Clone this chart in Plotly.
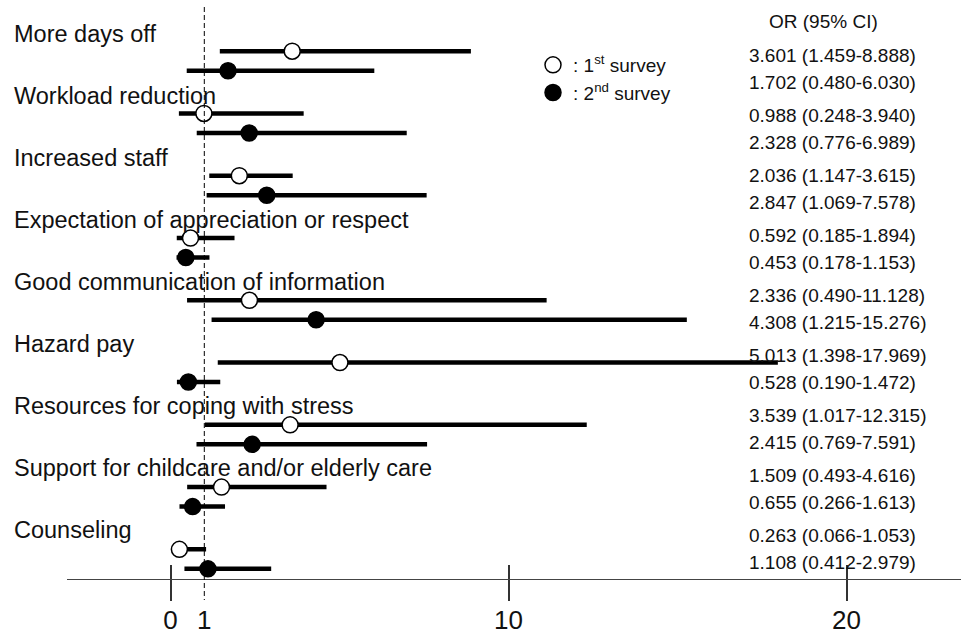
import plotly.graph_objects as go

# ---- data -------------------------------------------------------------
categories = [
    "More days off",
    "Workload reduction",
    "Increased staff",
    "Expectation of appreciation or respect",
    "Good communication of information",
    "Hazard pay",
    "Resources for coping with stress",
    "Support for childcare and/or elderly care",
    "Counseling",
]
or_1st = [3.601, 0.988, 2.036, 0.592, 2.336, 5.013, 3.539, 1.509, 0.263]
lo_1st = [1.459, 0.248, 1.147, 0.185, 0.490, 1.398, 1.017, 0.493, 0.066]
hi_1st = [8.888, 3.940, 3.615, 1.894, 11.128, 17.969, 12.315, 4.616, 1.053]
or_2nd = [1.702, 2.328, 2.847, 0.453, 4.308, 0.528, 2.415, 0.655, 1.108]
lo_2nd = [0.480, 0.776, 1.069, 0.178, 1.215, 0.190, 0.769, 0.266, 0.412]
hi_2nd = [6.030, 6.989, 7.578, 1.153, 15.276, 1.472, 7.591, 1.613, 2.979]
tick_vals = [0, 1, 10, 20]
tick_text = ["0", "1", "10", "20"]
reference_or = 1

# ---- page geometry (pixels) ------------------------------------------
W, H = 961, 636
PX_PER_UNIT = 33.8          # horizontal scale
ZERO_PX = 170.5             # where OR = 0 sits
AXIS_LEFT_PX = 67
AXIS_Y_PX = 579
LABEL_AXIS_Y_PX = 602

FONT = "Arial, Liberation Sans, Helvetica, sans-serif"
INK = "#111111"

x_range = [(AXIS_LEFT_PX - ZERO_PX) / PX_PER_UNIT, (W - ZERO_PX) / PX_PER_UNIT]
x_domain = [AXIS_LEFT_PX / W, 1]

n = len(categories)
y_first = [51.2 + 62.27 * i for i in range(n)]
y_second = [y + 19.5 for y in y_first]
y_label = [33.8 + 62.0 * i for i in range(n)]
y_text_first = [55 + 60 * i for i in range(n)]
y_text_second = [y + 27 for y in y_text_first]


def segments(lo, hi, ys):
    xs, yy = [], []
    for a, b, y in zip(lo, hi, ys):
        xs += [a, b, None]
        yy += [y, y, None]
    return xs, yy


fig = go.Figure()

# confidence-interval bars
for lo, hi, ys in [(lo_1st, hi_1st, y_first), (lo_2nd, hi_2nd, y_second)]:
    sx, sy = segments(lo, hi, ys)
    fig.add_trace(go.Scatter(
        x=sx, y=sy, mode="lines",
        line=dict(color="black", width=4.5),
        hoverinfo="skip", showlegend=False,
    ))

# point estimates
fig.add_trace(go.Scatter(
    x=or_1st, y=y_first, mode="markers",
    name=": 1<sup>st</sup> survey",
    marker=dict(symbol="circle", size=16, color="white",
                line=dict(color="black", width=1.5)),
))
fig.add_trace(go.Scatter(
    x=or_2nd, y=y_second, mode="markers",
    name=": 2<sup>nd</sup> survey",
    marker=dict(symbol="circle", size=16, color="black",
                line=dict(color="black", width=1.5)),
))

# reference line at OR = 1
fig.add_shape(type="line", xref="x", yref="y",
              x0=reference_or, x1=reference_or, y0=7, y1=600,
              line=dict(color="black", width=1, dash="5px,3px"), layer="above")

annotations = []
for name, y in zip(categories, y_label):
    annotations.append(dict(
        text=name, xref="paper", yref="y", x=12 / W, y=y,
        xanchor="left", yanchor="middle", showarrow=False,
        font=dict(family=FONT, size=23.5, color=INK),
    ))

annotations.append(dict(
    text="OR (95% CI)", xref="paper", yref="y", x=823 / W, y=21,
    xanchor="center", yanchor="middle", showarrow=False,
    font=dict(family=FONT, size=19, color=INK),
))
for vals, los, his, ys in [(or_1st, lo_1st, hi_1st, y_text_first),
                           (or_2nd, lo_2nd, hi_2nd, y_text_second)]:
    for v, a, b, y in zip(vals, los, his, ys):
        annotations.append(dict(
            text=f"{v:.3f} ({a:.3f}-{b:.3f})", xref="paper", yref="y",
            x=747 / W, y=y, xanchor="left", yanchor="middle", showarrow=False,
            font=dict(family=FONT, size=19, color=INK),
        ))

fig.update_layout(
    width=W, height=H,
    margin=dict(l=0, r=0, t=0, b=0),
    paper_bgcolor="white", plot_bgcolor="white",
    font=dict(family=FONT, color=INK),
    annotations=annotations,
    showlegend=True,
    legend=dict(
        x=533 / W, y=1 - 46 / H, xanchor="left", yanchor="top",
        font=dict(family=FONT, size=19, color=INK),
        bgcolor="rgba(0,0,0,0)", tracegroupgap=0, itemsizing="trace",
    ),
    xaxis=dict(
        domain=x_domain, range=x_range, anchor="free",
        position=(H - AXIS_Y_PX) / H,
        showline=True, linecolor="#444444", linewidth=1.3,
        ticks="outside", ticklen=21, tickwidth=1.5, tickcolor="#333333",
        tickvals=[v for v in tick_vals if v != reference_or],
        showticklabels=False, showgrid=False, zeroline=False,
    ),
    xaxis2=dict(
        domain=x_domain, range=x_range, overlaying="x", anchor="free",
        position=(H - AXIS_Y_PX) / H,
        showline=False, ticks="inside", ticklen=14, tickwidth=1.5,
        tickcolor="#333333",
        tickvals=[v for v in tick_vals if v != reference_or],
        showticklabels=False, showgrid=False, zeroline=False,
    ),
    xaxis3=dict(
        domain=x_domain, range=x_range, overlaying="x", anchor="free",
        position=(H - LABEL_AXIS_Y_PX) / H,
        showline=False, ticks="", tickvals=tick_vals, ticktext=tick_text,
        tickfont=dict(family=FONT, size=26, color=INK),
        showgrid=False, zeroline=False,
    ),
    yaxis=dict(range=[H, 0], domain=[0, 1], visible=False,
               showgrid=False, zeroline=False),
)

# keep the overlaying axes alive with invisible placeholders
fig.add_trace(go.Scatter(x=[0], y=[-100], xaxis="x2", mode="markers",
                         marker=dict(opacity=0), hoverinfo="skip",
                         showlegend=False))
fig.add_trace(go.Scatter(x=[0], y=[-100], xaxis="x3", mode="markers",
                         marker=dict(opacity=0), hoverinfo="skip",
                         showlegend=False))

fig.write_html("out.html")
